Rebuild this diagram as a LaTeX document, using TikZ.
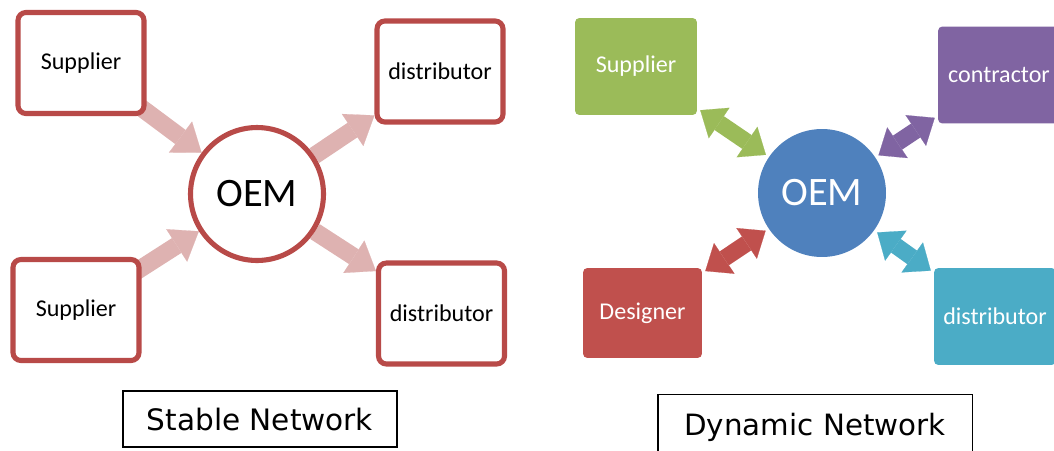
\documentclass[tikz,border=0pt]{standalone}
\usepackage{fontspec}
\setmainfont{Carlito}
\newfontfamily\titlefont{DejaVu Sans}
\usetikzlibrary{arrows.meta,backgrounds}

\definecolor{ringred}{RGB}{184,74,72}
\definecolor{flowpink}{RGB}{222,178,177}
\definecolor{oemblue}{RGB}{79,129,189}
\definecolor{oemred}{RGB}{192,80,77}
\definecolor{suppgreen}{RGB}{155,187,89}
\definecolor{contpurple}{RGB}{128,100,162}
\definecolor{distteal}{RGB}{75,172,198}

\tikzset{
  firm/.style={draw=ringred, line width=2.9pt, fill=white, rounded corners=4.5pt,
    minimum width=2.52cm, minimum height=2.02cm, font=\fontsize{13.7}{16}\selectfont},
  partner/.style={rounded corners=2.5pt, text=white, minimum width=2.44cm,
    minimum height=1.94cm, font=\fontsize{13.7}{16}\selectfont},
  hub/.style={circle, inner sep=0pt, font=\fontsize{23}{26}\selectfont},
  caption/.style={draw, line width=1.1pt, minimum width=5.48cm, minimum height=1.12cm,
    font=\titlefont\fontsize{16.8}{20}\selectfont},
  flow/.style={draw=flowpink, line width=10pt,
    -{Triangle[width=22pt 0 0, length=15pt 0 0, line width=0.1pt]}},
  link/.style={line width=9.5pt,
    {Triangle[width=21pt 0 0, length=13pt 0 0, line width=0.1pt]}-{Triangle[width=21pt 0 0, length=13pt 0 0, line width=0.1pt]},
    shorten >=2pt, shorten <=2pt},
}

\begin{document}
\begin{tikzpicture}[x=0.02cm,y=-0.02cm]
    \path[use as bounding box] (0,0) rectangle (1054,450);
    \clip (0,0) rectangle (1054,450);

    % stable network
    \node[hub, draw=ringred, line width=2.9pt, fill=white, minimum size=2.66cm] (oemS) at (257,194) {OEM};
    \node[firm] (supA) at (81,63) {Supplier};
    \node[firm] (supB) at (76,310) {Supplier};
    \node[firm] (disA) at (440,71.5) {distributor};
    \node[firm] (disB) at (441.5,313.5) {distributor};
    \node[caption] (stable) at (260,419) {Stable Network};

    % dynamic network
    \node[hub, fill=oemblue, text=white, minimum size=2.56cm] (oemD) at (822,193) {OEM};
    \node[partner, fill=suppgreen] (supC) at (636,66.5) {Supplier};
    \node[partner, fill=contpurple] (conC) at (999,75) {contractor};
    \node[partner, fill=oemred, minimum width=2.38cm, minimum height=1.8cm] (desC) at (642.5,313) {Designer};
    \node[partner, fill=distteal] (disC) at (995,316.5) {distributor};
    \node[caption, minimum width=6.3cm, minimum height=1.3cm, font=\titlefont\fontsize{16.7}{20}\selectfont] (dynamic) at (815,427) {Dynamic Network};

    \begin{scope}[on background layer]
      \draw[flow, shorten <=-0.24cm] (supA) -- (oemS);
      \draw[flow, shorten <=-0.24cm] (supB) -- (oemS);
      \draw[flow] (oemS) -- (disA);
      \draw[flow] (oemS) -- (disB);
    \end{scope}

    \draw[link, draw=suppgreen] (supC) -- (oemD);
    \draw[link, draw=contpurple] (conC) -- (oemD);
    \draw[link, draw=oemred] (desC) -- (oemD);
    \draw[link, draw=distteal] (disC) -- (oemD);
\end{tikzpicture}
\end{document}
